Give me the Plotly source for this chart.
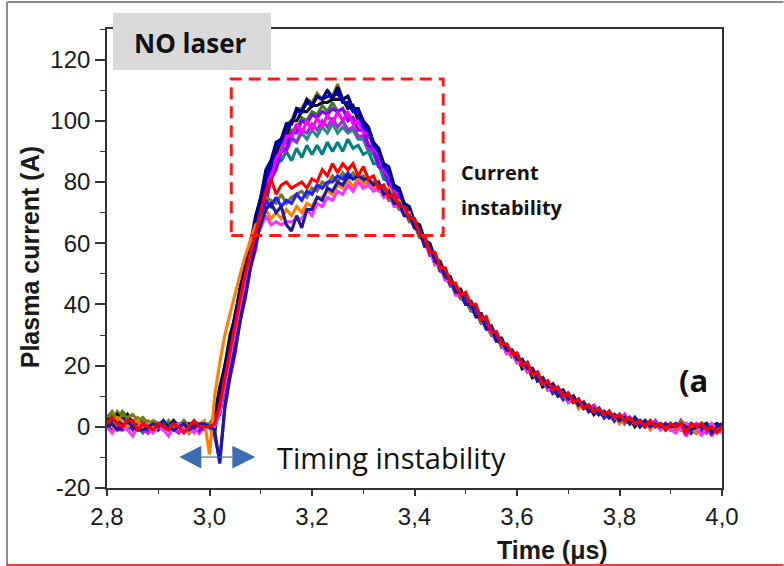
import plotly.graph_objects as go

# time axis (µs), sampled every 0.01 µs
time_us = [
    2.80, 2.81, 2.82, 2.83, 2.84, 2.85, 2.86, 2.87, 2.88, 2.89,
    2.90, 2.91, 2.92, 2.93, 2.94, 2.95, 2.96, 2.97, 2.98, 2.99,
    3.00, 3.01, 3.02, 3.03, 3.04, 3.05, 3.06, 3.07, 3.08, 3.09,
    3.10, 3.11, 3.12, 3.13, 3.14, 3.15, 3.16, 3.17, 3.18, 3.19,
    3.20, 3.21, 3.22, 3.23, 3.24, 3.25, 3.26, 3.27, 3.28, 3.29,
    3.30, 3.31, 3.32, 3.33, 3.34, 3.35, 3.36, 3.37, 3.38, 3.39,
    3.40, 3.41, 3.42, 3.43, 3.44, 3.45, 3.46, 3.47, 3.48, 3.49,
    3.50, 3.51, 3.52, 3.53, 3.54, 3.55, 3.56, 3.57, 3.58, 3.59,
    3.60, 3.61, 3.62, 3.63, 3.64, 3.65, 3.66, 3.67, 3.68, 3.69,
    3.70, 3.71, 3.72, 3.73, 3.74, 3.75, 3.76, 3.77, 3.78, 3.79,
    3.80, 3.81, 3.82, 3.83, 3.84, 3.85, 3.86, 3.87, 3.88, 3.89,
    3.90, 3.91, 3.92, 3.93, 3.94, 3.95, 3.96, 3.97, 3.98, 3.99,
    4.00,
]

# ---- upper group (stable shots, peak ~90-112 A) ----
shot_olive = [
    4, 2, 5, 3, 4, 1, 3, 1, 2, 0,
    1, -1, 2, 0, 1, -1, 1, 0, -1, 1,
    0, 2, 9, 19, 26, 35, 42, 52, 57, 66,
    73, 82, 86, 92, 94, 99, 100, 104, 104, 107,
    106, 109, 107, 110, 108, 112, 107, 108, 104, 104,
    99, 98, 92, 91, 85, 84, 79, 77, 72, 71,
    67, 65, 60, 59, 54, 54, 49, 49, 44, 44,
    41, 41, 37, 37, 33, 32, 28, 28, 24, 25,
    21, 22, 18, 19, 16, 16, 13, 14, 11, 12,
    9, 10, 7, 8, 6, 7, 4, 5, 3, 4,
    2, 4, 1, 3, 1, 2, 0, 2, 0, 1,
    -1, 1, 0, -2, 1, 0, 1, -1, 0, 1,
    0,
]
shot_green = [
    2, 4, 2, 5, 3, 2, 0, 3, 0, 1,
    0, 2, -1, 0, 1, -1, 0, 2, 0, -1,
    1, 3, 12, 19, 29, 35, 45, 51, 60, 65,
    73, 78, 85, 87, 92, 93, 97, 97, 101, 100,
    103, 102, 105, 103, 106, 103, 104, 101, 101, 97,
    97, 92, 91, 86, 85, 79, 78, 73, 72, 68,
    67, 62, 61, 57, 56, 51, 51, 46, 46, 42,
    42, 38, 38, 34, 34, 30, 30, 26, 27, 23,
    24, 20, 21, 17, 17, 14, 15, 11, 12, 9,
    11, 8, 9, 6, 7, 5, 6, 3, 5, 2,
    4, 2, 3, 1, 2, 0, 2, 0, 1, -1,
    1, -1, 2, 0, 0, -2, 1, 1, -1, 0,
    1,
]
shot_cyan = [
    1, -1, 2, 1, -1, 1, 0, -2, 0, 1,
    -1, 0, 1, -1, -2, 0, 1, -1, 0, 0,
    0, 1, 7, 16, 23, 33, 40, 50, 55, 64,
    69, 77, 80, 86, 87, 90, 87, 91, 88, 92,
    89, 92, 89, 93, 90, 93, 90, 94, 91, 92,
    89, 90, 86, 86, 81, 80, 75, 74, 70, 69,
    65, 64, 59, 58, 53, 53, 48, 48, 44, 43,
    40, 40, 36, 36, 32, 31, 28, 28, 24, 24,
    21, 21, 18, 19, 15, 16, 12, 13, 10, 11,
    8, 9, 7, 8, 5, 6, 4, 5, 3, 4,
    2, 3, 1, 2, 0, 2, 0, 1, -1, 1,
    -1, 0, -1, 1, 0, 1, -2, 0, 1, 0,
    0,
]
shot_teal = [
    0, 2, 1, 0, 2, 1, 0, 1, -1, 0,
    1, 0, -1, 1, 0, 0, -2, 1, 0, 0,
    0, 1, 8, 17, 25, 33, 43, 49, 58, 63,
    72, 77, 84, 86, 91, 91, 95, 93, 96, 94,
    97, 95, 98, 96, 99, 96, 98, 96, 97, 94,
    94, 90, 89, 85, 83, 79, 77, 73, 71, 68,
    66, 62, 61, 57, 55, 51, 50, 47, 45, 42,
    41, 38, 37, 35, 33, 30, 29, 27, 25, 23,
    23, 20, 19, 18, 16, 14, 14, 12, 11, 10,
    10, 8, 8, 6, 6, 5, 5, 4, 4, 3,
    3, 2, 2, 1, 2, 0, 1, 0, 1, 0,
    0, 1, -1, 0, 1, 0, 0, -1, 0, 1,
    0,
]
shot_black = [
    3, 1, 4, 2, 4, 1, 2, 0, 1, 1,
    0, 2, -1, 1, 0, 1, -2, 0, 1, 0,
    0, 4, 13, 20, 30, 36, 46, 52, 61, 66,
    75, 79, 87, 89, 94, 95, 100, 100, 103, 103,
    105, 105, 106, 106, 107, 107, 107, 104, 105, 100,
    100, 95, 93, 88, 86, 81, 79, 74, 73, 68,
    68, 63, 62, 57, 56, 51, 51, 47, 46, 42,
    43, 38, 39, 34, 35, 31, 30, 27, 26, 23,
    23, 19, 20, 16, 17, 13, 14, 11, 12, 9,
    10, 8, 8, 6, 7, 4, 6, 3, 4, 2,
    3, 2, 3, 0, 2, 0, 1, 0, 1, 0,
    1, -1, 1, 0, 1, -2, 1, -1, 1, -1,
    0,
]
shot_violet = [
    1, 2, 0, 1, 1, -1, 1, 0, -2, 0,
    1, -1, 0, 2, 0, -1, 1, 0, -1, 0,
    0, -3, -11, 6, 16, 24, 35, 42, 52, 58,
    68, 73, 81, 84, 90, 91, 96, 96, 100, 99,
    102, 101, 103, 102, 104, 103, 104, 100, 101, 97,
    97, 92, 91, 85, 84, 79, 78, 73, 72, 67,
    67, 62, 61, 56, 56, 51, 50, 46, 46, 42,
    42, 39, 38, 34, 34, 30, 31, 26, 27, 23,
    24, 20, 21, 17, 17, 14, 15, 11, 12, 9,
    11, 8, 9, 6, 7, 5, 6, 3, 5, 2,
    4, 1, 3, 1, 2, 0, 1, 0, 1, -1,
    1, -1, 2, 0, -1, -2, 0, 1, -2, 0,
    1,
]
shot_purple = [
    1, 0, 2, 0, 1, 0, -1, 1, 0, 1,
    0, 1, 0, -1, 0, 1, 0, -1, 1, 0,
    0, 0, 5, 14, 23, 31, 41, 48, 57, 62,
    71, 75, 83, 85, 90, 90, 94, 93, 97, 96,
    99, 97, 100, 98, 101, 98, 100, 97, 98, 95,
    95, 91, 90, 86, 84, 80, 78, 74, 72, 68,
    67, 62, 61, 57, 55, 52, 50, 47, 45, 42,
    42, 38, 38, 35, 33, 31, 29, 27, 25, 24,
    22, 21, 19, 18, 16, 15, 13, 13, 11, 10,
    9, 9, 7, 7, 6, 5, 4, 4, 3, 3,
    2, 2, 1, 2, 1, 1, 0, 1, 0, 0,
    -1, 0, 1, -1, 0, 0, 1, -2, 0, 1,
    0,
]
shot_magenta = [
    0, 1, -1, -1, 0, 2, 0, -1, -2, 0,
    1, 1, -1, 0, -2, 0, 1, 1, -2, 0,
    0, 1, 6, 16, 23, 34, 41, 51, 57, 65,
    70, 78, 82, 88, 90, 95, 95, 99, 96, 100,
    97, 101, 98, 102, 99, 103, 100, 103, 99, 100,
    96, 96, 91, 89, 84, 82, 77, 76, 71, 70,
    66, 64, 60, 58, 54, 53, 49, 48, 44, 44,
    41, 41, 37, 37, 33, 32, 28, 28, 24, 25,
    21, 22, 18, 19, 16, 16, 13, 14, 11, 12,
    9, 10, 7, 8, 6, 7, 4, 5, 3, 4,
    2, 4, 1, 3, 1, 2, 0, 2, -1, 1,
    -1, 1, 0, -3, 0, 1, -1, 0, -3, 0,
    -2,
]
shot_blue = [
    1, -1, 1, 3, 0, 1, -1, 1, 0, -1,
    1, 0, -1, 1, 0, 2, 0, -1, 1, 0,
    0, 2, 8, 18, 25, 35, 42, 52, 57, 66,
    72, 81, 85, 92, 93, 98, 99, 103, 103, 106,
    105, 108, 107, 108, 108, 109, 106, 106, 103, 103,
    98, 97, 92, 90, 85, 83, 78, 77, 71, 70,
    66, 64, 59, 59, 54, 53, 49, 48, 44, 43,
    40, 40, 36, 36, 32, 32, 28, 28, 25, 25,
    22, 22, 19, 19, 15, 16, 13, 13, 10, 11,
    9, 10, 7, 8, 5, 6, 4, 5, 3, 4,
    2, 3, 1, 3, 1, 2, 0, 1, 0, 1,
    -1, 1, 0, 1, -1, -2, 1, 0, -1, 1,
    0,
]
shot_navy = [
    0, 2, 0, 1, 2, 0, 1, -1, 0, 1,
    -1, 1, 0, 2, 0, -1, 1, 0, -1, 1,
    0, -2, 10, 20, 27, 37, 44, 54, 60, 69,
    75, 84, 87, 93, 94, 99, 99, 104, 103, 107,
    105, 108, 107, 110, 107, 111, 107, 108, 104, 104,
    100, 98, 93, 91, 86, 85, 79, 78, 73, 72,
    67, 66, 61, 60, 55, 54, 50, 49, 45, 45,
    41, 41, 37, 37, 33, 33, 29, 29, 25, 25,
    22, 22, 19, 19, 16, 16, 13, 14, 11, 12,
    9, 10, 7, 8, 6, 6, 4, 5, 3, 4,
    2, 3, 1, 2, 1, 2, 0, 1, 0, 1,
    -1, 1, 0, 1, -2, 0, 1, -1, 0, 1,
    0,
]

# ---- lower group (current instability, plateau ~64-86 A) ----
shot_olive2 = [
    3, 5, 2, 4, 3, 4, 2, 3, 1, 2,
    1, 2, 0, 1, 0, 2, 0, 1, 0, 1,
    1, 2, 6, 15, 24, 33, 41, 49, 57, 64,
    70, 75, 74, 73, 76, 73, 75, 76, 77, 75,
    78, 77, 80, 79, 82, 80, 83, 81, 83, 81,
    82, 79, 80, 77, 77, 74, 74, 71, 71, 67,
    67, 62, 62, 57, 56, 52, 51, 47, 46, 42,
    42, 38, 38, 34, 34, 30, 30, 26, 27, 23,
    24, 20, 21, 17, 17, 14, 15, 11, 12, 9,
    11, 8, 9, 6, 7, 5, 6, 3, 5, 2,
    4, 1, 3, 1, 2, 0, 1, 0, 1, -1,
    1, -1, 2, 0, -1, -2, 0, 1, -2, 0,
    1,
]
shot_blue2 = [
    0, 1, 0, -1, 1, 0, 1, 0, -1, 0,
    1, 0, 0, -1, 1, 0, 0, 1, -1, 0,
    0, 1, 4, 13, 22, 31, 40, 48, 56, 63,
    69, 74, 72, 75, 72, 74, 73, 76, 74, 77,
    76, 79, 78, 80, 80, 82, 81, 83, 81, 82,
    80, 81, 78, 79, 76, 76, 73, 72, 70, 68,
    66, 63, 60, 58, 55, 52, 50, 47, 45, 43,
    42, 39, 38, 35, 34, 31, 30, 27, 26, 24,
    23, 20, 20, 17, 17, 14, 14, 11, 12, 9,
    10, 8, 8, 6, 7, 5, 6, 3, 5, 2,
    4, 2, 3, 1, 2, 0, 1, 0, 1, 0,
    0, 1, -1, 0, 1, 0, -1, 1, 0, -1,
    0,
]
shot_orange = [
    2, 0, 3, 2, 0, 1, 2, -1, 1, 0,
    0, 2, -1, 0, 1, 0, -2, 0, 1, 2,
    -9, 10, 21, 30, 37, 44, 50, 56, 61, 66,
    67, 71, 68, 70, 68, 71, 69, 72, 70, 73,
    72, 75, 75, 77, 76, 79, 78, 81, 78, 82,
    79, 81, 78, 80, 77, 78, 74, 74, 70, 70,
    65, 64, 59, 58, 54, 53, 49, 48, 44, 44,
    40, 40, 36, 36, 32, 32, 28, 28, 25, 24,
    22, 21, 19, 18, 15, 16, 13, 13, 10, 11,
    8, 10, 6, 8, 5, 6, 4, 5, 3, 4,
    1, 3, 1, 2, 0, 2, -1, 1, 0, 1,
    -1, 0, -1, 1, 0, -2, 1, 0, 1, -1,
    0,
]
shot_pink = [
    0, -2, 1, 0, -1, -3, 0, 1, 0, -2,
    0, -1, -3, 0, 1, -1, 0, -2, 0, 0,
    0, 0, 5, 14, 23, 32, 40, 48, 56, 62,
    65, 69, 66, 67, 66, 67, 67, 68, 68, 71,
    69, 73, 72, 75, 74, 77, 76, 79, 77, 80,
    78, 79, 77, 78, 75, 76, 72, 72, 69, 69,
    65, 64, 59, 58, 53, 53, 48, 48, 43, 43,
    40, 40, 36, 36, 32, 31, 28, 28, 24, 24,
    21, 21, 18, 19, 15, 16, 12, 13, 10, 11,
    8, 9, 7, 8, 5, 6, 4, 5, 3, 4,
    2, 3, 1, 2, 0, 2, 0, 1, -1, 1,
    -1, -2, 0, 1, -1, 0, -3, 0, 1, -1,
    -2,
]
shot_navy2 = [
    0, 1, -1, 0, 2, 0, -1, -1, 0, 1,
    0, 2, 0, -1, 0, 1, -1, 0, 1, 1,
    0, -1, -12, 7, 17, 26, 35, 44, 52, 60,
    66, 71, 73, 70, 72, 66, 64, 69, 65, 71,
    71, 75, 74, 78, 77, 80, 79, 82, 81, 82,
    81, 81, 79, 80, 76, 77, 73, 73, 69, 69,
    65, 64, 59, 59, 54, 53, 49, 48, 44, 44,
    40, 40, 36, 36, 32, 32, 28, 28, 25, 25,
    22, 22, 19, 19, 15, 16, 13, 13, 10, 11,
    9, 10, 7, 8, 5, 6, 4, 5, 3, 4,
    2, 3, 1, 3, 0, 2, 0, 1, 0, 1,
    0, 0, 1, 0, -1, 0, 0, 1, -2, 0,
    1,
]
shot_red = [
    1, 3, 1, 0, 2, 2, -1, 1, 0, -1,
    1, 0, -1, 1, 0, -2, 0, 2, 0, 0,
    0, 1, 7, 16, 25, 33, 42, 50, 57, 64,
    70, 77, 81, 76, 79, 80, 78, 79, 80, 78,
    81, 80, 84, 82, 86, 83, 86, 84, 86, 82,
    85, 81, 82, 78, 79, 75, 76, 72, 72, 68,
    68, 63, 62, 57, 57, 52, 52, 47, 47, 43,
    44, 40, 40, 35, 36, 31, 31, 27, 27, 24,
    24, 20, 21, 17, 18, 14, 15, 12, 13, 10,
    11, 8, 9, 6, 7, 5, 6, 4, 5, 3,
    4, 2, 3, 1, 2, 0, 2, 0, 1, -1,
    1, 0, 1, -2, 1, 0, 1, -1, 0, -2,
    0,
]

series = [
    ("olive", shot_olive, "#808000"),
    ("green", shot_green, "#3f7a2a"),
    ("black", shot_black, "#111111"),
    ("cyan", shot_cyan, "#008080"),
    ("teal", shot_teal, "#2a8c7a"),
    ("purple", shot_purple, "#9932cc"),
    ("violet", shot_violet, "#8000ff"),
    ("magenta", shot_magenta, "#ff00ff"),
    ("blue", shot_blue, "#0000ff"),
    ("navy", shot_navy, "#000080"),
    ("olive2", shot_olive2, "#7a7a1a"),
    ("blue2", shot_blue2, "#2020ff"),
    ("orange", shot_orange, "#ff8000"),
    ("pink", shot_pink, "#ff33ff"),
    ("navy2", shot_navy2, "#1a1a9a"),
    ("red", shot_red, "#ff0000"),
]

x_ticks = [2.8, 3.0, 3.2, 3.4, 3.6, 3.8, 4.0]
x_ticktext = ["2,8", "3,0", "3,2", "3,4", "3,6", "3,8", "4,0"]
y_ticks = [-20, 0, 20, 40, 60, 80, 100, 120]
y_ticktext = ["-20", "0", "20", "40", "60", "80", "100", "120"]

fig = go.Figure()
for name, vals, col in series:
    fig.add_trace(go.Scatter(x=time_us, y=vals, mode="lines", name=name,
                             line=dict(color=col, width=3.1), showlegend=False))

axis_common = dict(showline=True, linecolor="#333333", linewidth=1.6, mirror=True,
                   showgrid=False, zeroline=False, ticks="outside", tickcolor="#333333",
                   tickfont=dict(family="Arial", size=24, color="#1a1a1a"))

fig.update_xaxes(range=[2.8, 4.0], tickvals=x_ticks, ticktext=x_ticktext, ticklen=6,
                 tickwidth=1.5,
                 minor=dict(dtick=0.1, ticks="outside", ticklen=4, tickcolor="#333333", tickwidth=1.2),
                 **axis_common)
fig.update_yaxes(range=[-20, 130], tickvals=y_ticks, ticktext=y_ticktext, ticklen=10, tickwidth=1.5,
                 minor=dict(dtick=10, tick0=0, ticks="outside", ticklen=5, tickcolor="#333333", tickwidth=1.2),
                 **axis_common)

shapes = [
    # outer frame of the screenshot
    dict(type="line", xref="paper", yref="paper", x0=-0.1626, x1=1.10, y0=1.0588, y1=1.0588,
         line=dict(color="#8a8a8a", width=2)),
    dict(type="line", xref="paper", yref="paper", x0=-0.1626, x1=-0.1626, y0=1.0588, y1=-0.17,
         line=dict(color="#8a8a8a", width=2)),
    dict(type="line", xref="paper", yref="paper", x0=-0.1626, x1=1.10, y0=-0.1678, y1=-0.1678,
         line=dict(color="#e00000", width=1.5)),
    # "NO laser" label box
    dict(type="rect", xref="paper", yref="paper", x0=0.0098, x1=0.2667, y0=0.9107, y1=1.0349,
         fillcolor="#d9d9d9", line=dict(width=0), layer="above"),
    # current instability box
    dict(type="rect", xref="x", yref="y", x0=3.0425, x1=3.456, y0=62.5, y1=113.7,
         line=dict(color="#ff1a1a", width=3, dash="12px,7px"), layer="above"),
    # timing instability double arrow
    dict(type="line", xref="x", yref="y", x0=2.984, x1=3.0445, y0=-9.9, y1=-9.9,
         line=dict(color="#3c6db3", width=1.2)),
    dict(type="path", xref="x", yref="y", path="M 2.9411,-9.9 L 2.984,-6.2 L 2.984,-13.6 Z",
         fillcolor="#3c6db3", line=dict(width=0)),
    dict(type="path", xref="x", yref="y", path="M 3.0894,-9.9 L 3.0445,-6.2 L 3.0445,-13.6 Z",
         fillcolor="#3c6db3", line=dict(width=0)),
]

annotations = [
    dict(text="<b>NO laser</b>", xref="paper", yref="paper", x=0.135, y=0.9695,
         showarrow=False, xanchor="center", yanchor="middle",
         font=dict(family="Open Sans", size=26, color="#111111")),
    dict(text="<b>Current</b>", xref="paper", yref="paper", x=0.5724, y=0.6863,
         showarrow=False, xanchor="left", yanchor="middle",
         font=dict(family="Open Sans", size=20, color="#111111")),
    dict(text="<b>instability</b>", xref="paper", yref="paper", x=0.5724, y=0.6122,
         showarrow=False, xanchor="left", yanchor="middle",
         font=dict(family="Open Sans", size=20, color="#111111")),
    dict(text="<b>(a</b>", xref="paper", yref="paper", x=0.9268, y=0.2353,
         showarrow=False, xanchor="left", yanchor="middle",
         font=dict(family="Open Sans", size=31, color="#111111")),
    dict(text="Timing instability", xref="paper", yref="paper", x=0.2732, y=0.0675,
         showarrow=False, xanchor="left", yanchor="middle",
         font=dict(family="Open Sans", size=29, color="#111111")),
    dict(text="<b>Time (μs)</b>", xref="paper", yref="paper", x=0.7236, y=-0.135,
         showarrow=False, xanchor="center", yanchor="middle",
         font=dict(family="Arial", size=25, color="#1a1a1a")),
    dict(text="<b>Plasma current (A)</b>", xref="paper", yref="paper", x=-0.125, y=0.503,
         showarrow=False, xanchor="center", yanchor="middle", textangle=-90,
         font=dict(family="Arial", size=25, color="#1a1a1a")),
]

fig.update_layout(width=784, height=566, margin=dict(l=107, r=62, t=29, b=78),
                  paper_bgcolor="white", plot_bgcolor="white",
                  shapes=shapes, annotations=annotations, showlegend=False)

fig.write_html("out.html")
